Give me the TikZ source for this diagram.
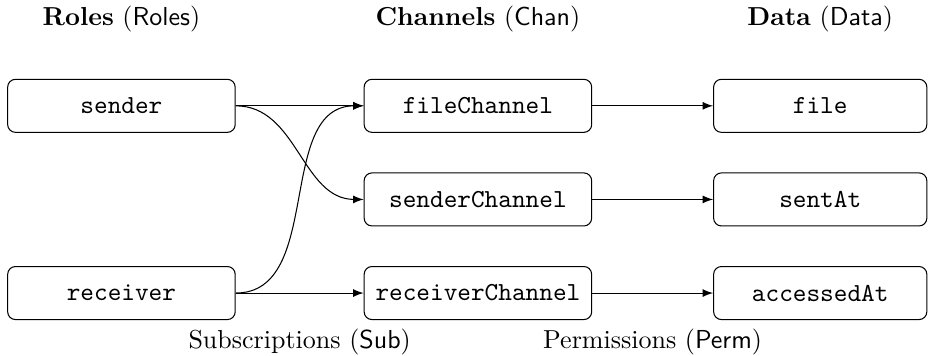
\documentclass[tikz,border=0pt]{standalone}
\usepackage{amsmath,amssymb}
\usepackage{tikz}
\usetikzlibrary{shapes,arrows,positioning,calc}
\tikzstyle{cell} = [draw, rectangle, rounded corners=3pt, font=\ttfamily,
minimum height=20.4pt, minimum width=87.5pt]
\tikzstyle{datacell} = [cell, minimum width=82pt]
\tikzstyle{heading} = [inner sep=3.33pt]
\tikzstyle{link} = [->, >=latex]

\begin{document}
\begin{tikzpicture}[auto]
		\useasboundingbox (0,0) rectangle (359.2pt,136.9pt);

		% roles
		\node [cell] (sender) at (46.7pt,96.2pt) {sender};
		\node [heading, above=14.6pt of sender] (rolesHead) {\textbf{Roles} (\textsf{Roles})};

		% channels
		\node [cell, right=49.2pt of sender] (fileChannel) {fileChannel};
		\node [cell, below=15.2pt of fileChannel] (senderChannel) {senderChannel};
		\node [cell, below=15.2pt of senderChannel] (receiverChannel) {receiverChannel};
		\node [heading, above=14.6pt of fileChannel] (chanHead) {\textbf{Channels} (\textsf{Chan})};

		\node [cell, left=49.2pt of receiverChannel] (receiver) {receiver};

		% data
		\node [datacell, right=46.5pt of fileChannel] (file) {file};
		\node [datacell, right=46.5pt of senderChannel] (sentAt) {sentAt};
		\node [datacell, right=46.5pt of receiverChannel] (accessedAt) {accessedAt};
		\node [heading, above=14.6pt of file] (dataHead) {\textbf{Data} (\textsf{Data})};

		% subscriptions
		\draw [link] (sender.east) -- (fileChannel.west);
		\draw [link] (sender.east) to[out=0, in=180] (senderChannel.west);
		\draw [link] (receiver.east) to[out=0, in=180] (fileChannel.west);
		\draw [link] (receiver.east) -- (receiverChannel.west);

		% permissions
		\draw [link] (fileChannel) -- (file);
		\draw [link] (senderChannel) -- (sentAt);
		\draw [link] (receiverChannel) -- (accessedAt);

		\node [heading, below=0pt] (subLabel) at ($(receiver.south east)!0.5!(receiverChannel.south west)$) {Subscriptions (\textsf{Sub})};
		\node [heading, below=0pt] (permLabel) at ($(receiverChannel.south east)!0.5!(accessedAt.south west)$) {Permissions (\textsf{Perm})};
\end{tikzpicture}
\end{document}
